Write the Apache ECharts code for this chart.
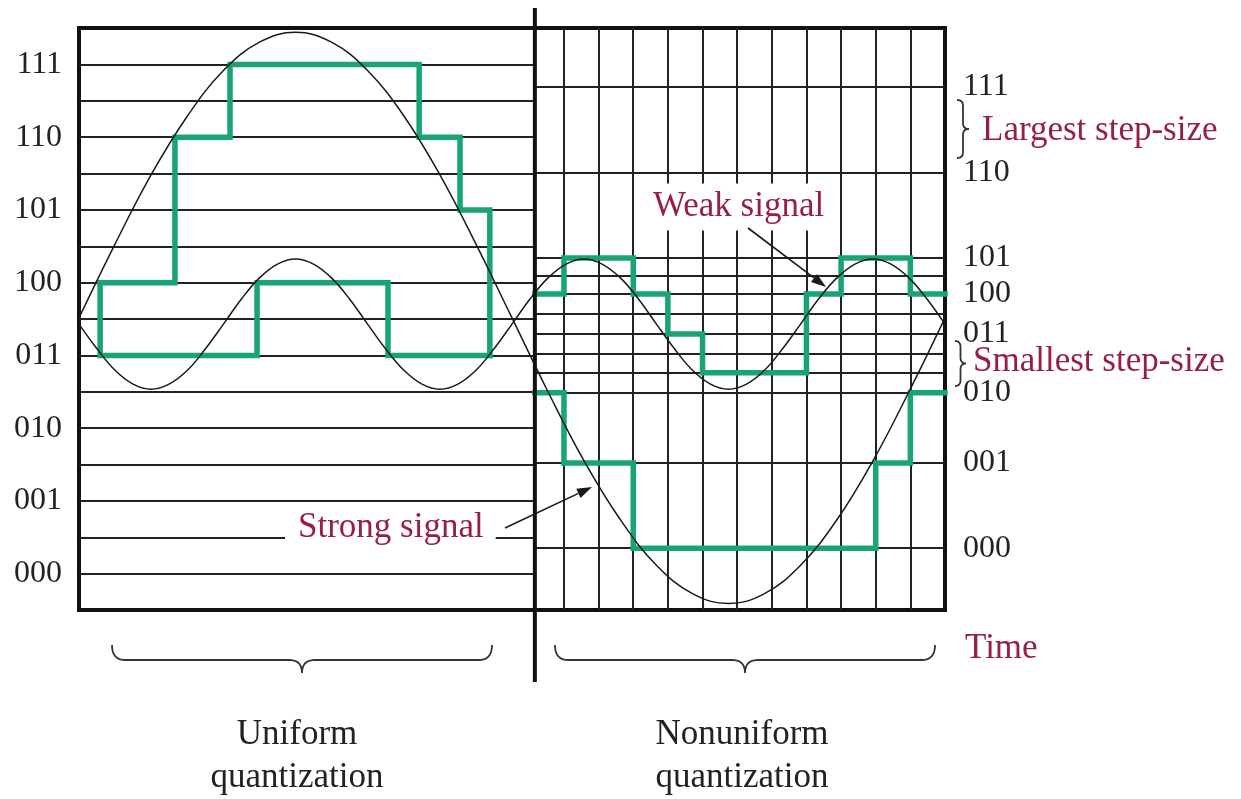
<!DOCTYPE html>
<html><head><meta charset="utf-8">
<script src="https://cdn.jsdelivr.net/npm/echarts@6/dist/echarts.min.js"></script>
<style>html,body{margin:0;padding:0;background:#fff}#c{width:1241px;height:799px}</style>
</head><body><div id="c"></div>
<script>
// ---- data (time in sample periods, level in uniform step units) ----
const uniformLevels = [1,2,3,4,5,6,7,8,9,10,11,12,13,14,15];
const uniformLabelValues = [1,3,5,7,9,11,13,15];
const codeLabels = ['000','001','010','011','100','101','110','111'];
const nonuniformLevels = [1.70,4.04,5.97,6.52,7.04,7.59,8.14,8.69,9.20,9.68,12.03,14.38];
const nonuniformLabelValues = [1.70,4.04,5.97,7.59,8.69,9.68,12.03,14.38];
const sampleTimes = [14,15,16,17,18,19,20,21,22,23,24];
const dividerTime = 13.16;

const strongTimes = [0,1.04,2.08,3.13,4.17,5.21,6.25,7.29,8.33,9.38,10.42,11.46,12.5,13.54,14.58,15.63,16.67,17.71,18.75,19.79,20.83,21.88,22.92,23.96,25];
const strongValues = [8.03,10.06,11.96,13.58,14.83,15.61,15.88,15.61,14.83,13.58,11.96,10.06,8.03,6.00,4.10,2.48,1.23,0.45,0.18,0.45,1.23,2.48,4.10,6.00,8.03];

const weakTimes = [0,0.52,1.04,1.56,2.08,2.60,3.13,3.65,4.17,4.69,5.21,5.73,6.25,6.77,7.29,7.81,8.33,8.85,9.38,9.90,10.42,10.94,11.46,11.98,12.5,13.02,13.54,14.06,14.58,15.10,15.63,16.15,16.67,17.19,17.71,18.23,18.75,19.27,19.79,20.31,20.83,21.35,21.88,22.40,22.92,23.44,23.96,24.48,25];
const weakValues = [7.86,7.18,6.59,6.21,6.07,6.21,6.59,7.18,7.86,8.55,9.13,9.51,9.65,9.51,9.13,8.55,7.86,7.18,6.59,6.21,6.07,6.21,6.59,7.18,7.86,8.55,9.13,9.51,9.65,9.51,9.13,8.55,7.86,7.18,6.59,6.21,6.07,6.21,6.59,7.18,7.86,8.55,9.13,9.51,9.65,9.51,9.13,8.55,7.86];

const strongUniformTimes = [0.61,2.77,4.36,9.82,11.0,11.86];
const strongUniformLevels = [9,13,15,13,11,7];
const weakUniformTimes = [0.61,0.61,5.14,8.92,11.86];
const weakUniformLevels = [9,7,9,7,7];
const strongNonuniformTimes = [13.16,14,16,23,24,25];
const strongNonuniformLevels = [5.97,4.04,1.70,4.04,5.97,5.97];
const weakNonuniformTimes = [13.16,14,16,17,18,21,22,24,25];
const weakNonuniformLevels = [8.69,9.68,8.69,7.59,6.52,8.69,9.68,8.69,8.69];

// ---- styles ----
const GREEN = '#18a378';
const MAROON = '#971d4a';
const INK = '#1a1a1a';
const SERIF = '"Liberation Serif", "Times New Roman", serif';

const zip = (a, b) => a.map((t, i) => [t, b[i]]);

const segs = uniformLevels.map(v => ({coords: [[0, v], [dividerTime, v]]}))
  .concat(nonuniformLevels.map(v => ({coords: [[dividerTime, v], [25, v]]})))
  .concat(sampleTimes.map(t => ({coords: [[t, 0], [t, 16]]})));

function nearestLabel(vals, v) {
  let best = 0;
  vals.forEach((x, i) => { if (Math.abs(x - v) < Math.abs(vals[best] - v)) best = i; });
  return codeLabels[best];
}

const stepStyle = {color: GREEN, width: 5.5, join: 'miter', cap: 'square'};
const curveStyle = {color: INK, width: 1.5};
const option = {
  animation: false,
  backgroundColor: '#fff',
  grid: {left: 79, right: 296, top: 28, bottom: 189, show: true, borderColor: '#111', borderWidth: 4, backgroundColor: 'transparent'},
  xAxis: {type: 'value', min: 0, max: 25, show: false},
  yAxis: [
    {type: 'value', min: 0, max: 16, position: 'left', axisLine: {show: false}, axisTick: {show: false}, splitLine: {show: false},
     axisLabel: {customValues: uniformLabelValues, formatter: v => nearestLabel(uniformLabelValues, v), fontFamily: SERIF, fontSize: 32, color: '#222', margin: 17}},
    {type: 'value', min: 0, max: 16, position: 'right', axisLine: {show: false}, axisTick: {show: false}, splitLine: {show: false},
     axisLabel: {customValues: nonuniformLabelValues, formatter: v => nearestLabel(nonuniformLabelValues, v), fontFamily: SERIF, fontSize: 32, color: '#222', margin: 18}}
  ],
  series: [
    {type: 'lines', coordinateSystem: 'cartesian2d', data: segs, silent: true, z: 1,
     lineStyle: {color: '#222', width: 2, opacity: 1}},
    {type: 'line', data: zip(strongUniformTimes, strongUniformLevels), step: 'end', symbol: 'none', lineStyle: stepStyle, z: 3},
    {type: 'line', data: zip(weakUniformTimes, weakUniformLevels), step: 'end', symbol: 'none', lineStyle: stepStyle, z: 3},
    {type: 'line', data: zip(strongNonuniformTimes, strongNonuniformLevels), step: 'end', symbol: 'none', lineStyle: stepStyle, z: 3},
    {type: 'line', data: zip(weakNonuniformTimes, weakNonuniformLevels), step: 'end', symbol: 'none', lineStyle: stepStyle, z: 3},
    {type: 'line', data: zip(strongTimes, strongValues), smooth: 0.4, symbol: 'none', lineStyle: curveStyle, z: 5},
    {type: 'line', data: zip(weakTimes, weakValues), smooth: 0.4, symbol: 'none', lineStyle: curveStyle, z: 5}
  ]
};

const chart = echarts.init(document.getElementById('c'));
chart.setOption(option);

const dx = chart.convertToPixel({gridIndex: 0}, [dividerTime, 0])[0];

// quadratic bezier sampled into points
function quad(p0, c, p1, n) {
  const out = [];
  for (let i = 1; i <= n; i++) {
    const t = i / n, u = 1 - t;
    out.push([u * u * p0[0] + 2 * u * t * c[0] + t * t * p1[0], u * u * p0[1] + 2 * u * t * c[1] + t * t * p1[1]]);
  }
  return out;
}
function braceDown(x1, x2, y0, yf, yt, r) {
  const xm = (x1 + x2) / 2;
  let pts = [[x1, y0]];
  pts = pts.concat(quad([x1, y0], [x1, yf], [x1 + r, yf], 10));
  pts.push([xm - r, yf]);
  pts = pts.concat(quad([xm - r, yf], [xm, yf], [xm, yt], 10));
  pts = pts.concat(quad([xm, yt], [xm, yf], [xm + r, yf], 10));
  pts.push([x2 - r, yf]);
  pts = pts.concat(quad([x2 - r, yf], [x2, yf], [x2, y0], 10));
  return pts;
}
function braceRight(x0, y1, y2, w, r) {
  const xh = x0 + w / 2, ym = (y1 + y2) / 2;
  let pts = [[x0, y1]];
  pts = pts.concat(quad([x0, y1], [xh, y1], [xh, y1 + r], 8));
  pts.push([xh, ym - r]);
  pts = pts.concat(quad([xh, ym - r], [xh, ym], [x0 + w, ym], 8));
  pts = pts.concat(quad([x0 + w, ym], [xh, ym], [xh, ym + r], 8));
  pts.push([xh, y2 - r]);
  pts = pts.concat(quad([xh, y2 - r], [xh, y2], [x0, y2], 8));
  return pts;
}
function arrow(x1, y1, x2, y2) {
  const a = Math.atan2(y2 - y1, x2 - x1), L = 15, W = 5;
  const bx = x2 - L * Math.cos(a), by = y2 - L * Math.sin(a);
  return [
    {type: 'line', z: 60, shape: {x1, y1, x2: bx, y2: by}, style: {stroke: INK, lineWidth: 1.6}},
    {type: 'polygon', z: 60, shape: {points: [[x2, y2], [bx - W * Math.sin(a), by + W * Math.cos(a)], [bx + W * Math.sin(a), by - W * Math.cos(a)]]}, style: {fill: INK}}
  ];
}
const brace = pts => ({type: 'polyline', z: 58, shape: {points: pts}, style: {stroke: '#333', lineWidth: 1.8, fill: null}});
const txt = (text, x, y, opts) => ({type: 'text', z: 55, style: Object.assign({text, x, y, font: '35px ' + SERIF, fill: MAROON, align: 'left', verticalAlign: 'middle'}, opts || {})});

const graphics = [
  {type: 'line', z: 58, shape: {x1: dx, y1: 8, x2: dx, y2: 682}, style: {stroke: '#111', lineWidth: 4}},
  brace(braceDown(112, 492, 645, 660, 673, 13)),
  brace(braceDown(555, 935, 645, 660, 673, 13)),
  brace(braceRight(957, 100, 158, 12, 6)),
  brace(braceRight(955, 341, 386, 11, 6)),
  txt('Weak signal', 649, 207, {backgroundColor: '#fff', padding: [6, 4, 6, 4]}),
  txt('Strong signal', 285, 528, {backgroundColor: '#fff', padding: [2, 12, 2, 13]}),
  txt('Largest step-size', 982, 131),
  txt('Smallest step-size', 973, 362),
  txt('Time', 965, 649),
  txt('Uniform', 297, 735, {align: 'center', fill: '#222'}),
  txt('quantization', 297, 778, {align: 'center', fill: '#222'}),
  txt('Nonuniform', 742, 735, {align: 'center', fill: '#222'}),
  txt('quantization', 742, 778, {align: 'center', fill: '#222'})
].concat(arrow(748, 228, 826, 287)).concat(arrow(505, 528, 592, 487));

chart.setOption({graphic: {elements: graphics}});
</script>
</body></html>
